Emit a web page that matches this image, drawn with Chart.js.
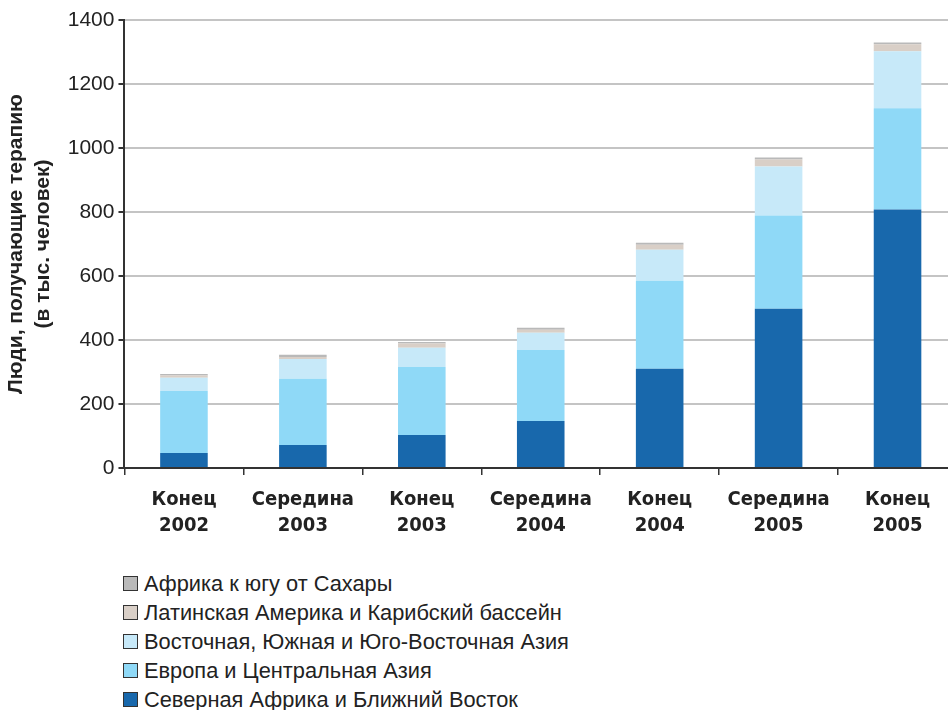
<!DOCTYPE html>
<html lang="ru">
<head>
<meta charset="utf-8">
<script src="https://cdn.jsdelivr.net/npm/chart.js@4"></script>
<style>
  html, body { margin: 0; padding: 0; background: #fff; overflow: hidden; }
  #wrap { position: relative; width: 962px; height: 551px; }
  #legend { position: absolute; left: 123px; top: 569px; font-family: "Liberation Sans", Arial, sans-serif; font-size: 21.8px; color: #222; }
  #legend div { height: 29px; line-height: 29px; display: flex; align-items: center; }
  #legend span.box { width: 13px; height: 13px; border: 1px solid #333; margin-right: 6px; display: inline-block; flex: none; }
</style>
</head>
<body>
<div id="wrap"><canvas id="therapyChart"></canvas></div>
<div id="legend"></div>
<script>
// периоды по оси X
const periods = [
  ['Конец', '2002'], ['Середина', '2003'], ['Конец', '2003'], ['Середина', '2004'],
  ['Конец', '2004'], ['Середина', '2005'], ['Конец', '2005']
];

// тыс. человек по регионам (снизу вверх в стопке)
const northAfrica = [47, 72, 103, 147, 310, 498, 808];
const europeAsia = [194, 207, 213, 222, 275, 291, 316];
const eastAsia = [41, 62, 60, 54, 97, 153, 178];
const latinAmerica = [7, 6, 13, 9, 16, 22, 22];
const subSaharan = [5, 7, 5, 6, 6, 6, 6];

const yTicks = [0, 200, 400, 600, 800, 1000, 1200, 1400];

const series = [
  { label: 'Северная Африка и Ближний Восток', data: northAfrica, color: '#1868ac' },
  { label: 'Европа и Центральная Азия', data: europeAsia, color: '#8fd9f7' },
  { label: 'Восточная, Южная и Юго-Восточная Азия', data: eastAsia, color: '#c7e9f9' },
  { label: 'Латинская Америка и Карибский бассейн', data: latinAmerica, color: '#d9cfc7' },
  { label: 'Африка к югу от Сахары', data: subSaharan, color: '#b9b9b9' }
];

const ctx = document.getElementById('therapyChart').getContext('2d');
new Chart(ctx, {
  type: 'bar',
  data: {
    labels: periods,
    datasets: series.map(s => ({
      label: s.label,
      data: s.data,
      backgroundColor: s.color,
      borderWidth: 0,
      barPercentage: 0.8,
      categoryPercentage: 0.5
    }))
  },
  options: {
    responsive: true,
    maintainAspectRatio: false,
    animation: false,
    layout: { padding: { top: 20, right: 5, left: 3, bottom: 0 } },
    plugins: {
      legend: { display: false },
      tooltip: { enabled: false }
    },
    scales: {
      x: {
        stacked: true,
        border: { color: '#333', width: 2 },
        grid: { drawOnChartArea: false, color: '#333', lineWidth: 1.5, tickLength: 7 },
        ticks: {
          color: '#222',
          padding: 12,
          maxRotation: 0,
          font: { family: '"Liberation Sans Narrow", "DejaVu Sans Condensed", "Liberation Sans", sans-serif', size: 20, weight: 'bold', lineHeight: 1.3 }
        }
      },
      y: {
        stacked: true,
        min: 0,
        max: 1400,
        afterBuildTicks: axis => { axis.ticks = yTicks.map(v => ({ value: v })); },
        border: { color: '#333', width: 2 },
        grid: { color: '#c4c4c4', lineWidth: 2, tickLength: 6, tickColor: '#333' },
        ticks: {
          color: '#222',
          padding: 4,
          callback: value => String(value),
          font: { family: '"Liberation Sans", Arial, sans-serif', size: 21 }
        },
        title: {
          display: true,
          text: ['Люди, получающие терапию', '(в тыс. человек)'],
          color: '#222',
          padding: { top: 0, bottom: 7 },
          font: { family: '"Liberation Sans", Arial, sans-serif', size: 21, weight: 'bold', lineHeight: 1.28 }
        }
      }
    }
  }
});

// легенда в столбик, порядок сверху вниз как в стопке
const legend = document.getElementById('legend');
series.slice().reverse().forEach(s => {
  const row = document.createElement('div');
  row.innerHTML = '<span class="box" style="background:' + s.color + '"></span>' + s.label;
  legend.appendChild(row);
});
</script>
</body>
</html>
